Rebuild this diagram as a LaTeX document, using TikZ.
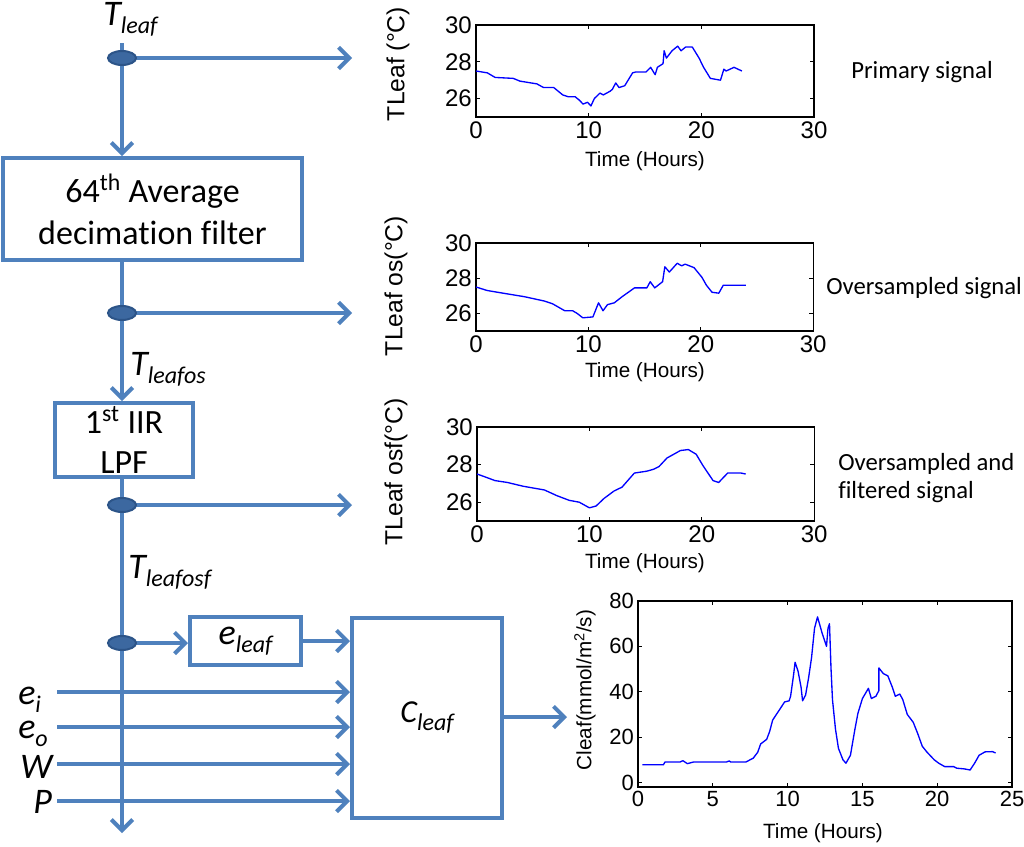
\documentclass[tikz,border=0pt]{standalone}
\usepackage{fontspec}
\setmainfont[Ligatures=NoCommon]{Carlito}
\newfontfamily\plotfont{Liberation Sans}
\usetikzlibrary{arrows.meta,shapes.geometric,positioning}
\definecolor{flowblue}{RGB}{79,129,189}
\definecolor{tapblue}{RGB}{60,104,160}
\definecolor{tapedge}{RGB}{44,84,136}
\tikzstyle{wire}=[draw=flowblue,line width=3pt]
\tikzstyle{flow}=[wire,-{Straight Barb[length=8pt,width=16pt]}]
\tikzstyle{blk}=[draw=flowblue,line width=3pt,fill=white,inner sep=0pt,align=center]
\tikzstyle{tap}=[ellipse,draw=tapedge,fill=tapblue,line width=1.5pt,minimum width=21pt,minimum height=10.5pt,inner sep=0pt]
\tikzstyle{txt}=[font=\fontsize{25.5}{31.5}\selectfont]
\tikzstyle{note}=[font=\fontsize{18.5}{20.5}\selectfont,inner sep=0pt,align=left]
\tikzstyle{lbl}=[inner sep=0pt]
\tikzstyle{ax}=[line width=0.8pt]
\tikzstyle{curve}=[blue,line width=1pt,line join=round]
\tikzstyle{tick}=[font=\plotfont\fontsize{18}{18}\selectfont,inner sep=3pt]
\tikzstyle{axlbl}=[font=\plotfont\fontsize{15.5}{15.5}\selectfont]
\tikzstyle{ylbl}=[font=\plotfont\fontsize{18.5}{18.5}\selectfont,rotate=90]
\newcommand{\quant}[3][27]{{\itshape\fontsize{#1}{#1}\selectfont #2}\raisebox{-6pt}{\itshape\fontsize{18}{18}\selectfont #3}}
\begin{document}
\begin{tikzpicture}[x=0.75pt,y=-0.75pt]  % one unit = one pixel of the layout
\useasboundingbox (0,0) rectangle (1024,846);

% signal chain
\coordinate (top) at (122,43);
\coordinate (bot) at (122,833);
\coordinate (t1) at (122,58);
\coordinate (t2) at (122,313);
\coordinate (t3) at (122,505);
\coordinate (t4) at (122,643);
\coordinate (s1) at (352,58);
\coordinate (s2) at (352,313);
\coordinate (s3) at (352,505);

\node[blk,txt,minimum width=224.25pt,minimum height=76.5pt] (dec) at (152.5,209)
      {64\textsuperscript{th} Average\\decimation filter};
\node[blk,txt,font=\fontsize{25.5}{30}\selectfont,minimum width=103.5pt,minimum height=55.5pt] (iir) at (124,440)
      {1\textsuperscript{st} IIR\\LPF};
\node[blk,minimum width=83.25pt,minimum height=36pt] (elf) at (245.5,641) {\quant{e}{leaf}};
\node[blk,minimum width=112.5pt,minimum height=150pt] (cl) at (427,717.5) {\quant[24]{C}{leaf}};

\node[lbl,anchor=base west] (tleaf) at (103,25) {\quant{T}{leaf}};
\node[lbl,anchor=base west] (tos) at (130,375) {\quant{T}{leafos}};
\node[lbl,anchor=base west] (tosf) at (128,578) {\quant{T}{leafosf}};

\draw[flow] (top) -- (top |- dec.north);
\draw[flow] (top |- dec.south) -- (top |- iir.north);
\draw[flow] (top |- iir.south) -- (bot);
\draw[flow] (t1) -- (s1);
\draw[flow] (t2) -- (s2);
\draw[flow] (t3) -- (s3);
\draw[flow] (t4) -- (t4 -| elf.west);
\draw[flow] (elf.east) -- (elf.east -| cl.west);

% inputs of C_leaf
\coordinate (in1) at (57,692);
\coordinate (in2) at (57,727);
\coordinate (in3) at (57,764);
\coordinate (in4) at (57,801);
\node[lbl,anchor=base west] (ei) at (18,704) {\quant{e}{i}};
\node[lbl,anchor=base west] (eo) at (18,738) {\quant{e}{o}};
\node[lbl,anchor=base west] (wv) at (20,778) {\quant{W}{}};
\node[lbl,anchor=base west] (pv) at (33,813) {\quant{P}{}};
\foreach \i in {1,...,4}
  \draw[flow] (in\i) -- (in\i -| cl.west);

\coordinate (c4) at (567,717);
\draw[flow] (cl.east |- c4) -- (c4);

\node[tap] (tap1) at (t1) {};
\node[tap] (tap2) at (t2) {};
\node[tap] (tap3) at (t3) {};
\node[tap] (tap4) at (t4) {};

% plot 1: primary signal
\coordinate (ax1) at (476,117);
\begin{scope}[shift={(ax1)},x=8.45pt,y=13.8pt,shift={(0,-25)}]
  \draw[ax] (0,25) rectangle (30,30);
  \foreach \t in {0,10,20,30} {
    \draw[ax] (\t,25) -- +(90:3pt);
    \draw[ax] (\t,30) -- +(-90:3pt);
    \node[tick,below] at (\t,25) {\t};
  }
  \foreach \v in {26,28,30} {
    \draw[ax] (0,\v) -- +(0:3pt);
    \draw[ax] (30,\v) -- +(180:3pt);
    \node[tick,left] at (0,\v) {\v};
  }
  \draw[curve] plot coordinates {(0,27.5) (0.5,27.45) (1,27.4) (1.7,27.15) (3.3,27.1) (3.9,26.95)
    (5.4,26.8) (6,26.6) (6.9,26.6) (7.7,26.2) (8.2,26.1) (8.8,26.1) (9.2,25.9) (9.5,25.7)
    (9.9,25.8) (10.2,25.6) (10.5,26.0) (11,26.3) (11.3,26.2) (11.9,26.4) (12.1,26.5)
    (12.4,26.85) (12.7,26.6) (13.2,26.7) (13.9,27.4) (14.2,27.45) (15.1,27.45) (15.5,27.7)
    (15.9,27.3) (16.1,27.7) (16.6,27.9) (16.7,28.6) (16.9,28.2) (17.4,28.6) (17.9,28.85)
    (18.2,28.6) (18.6,28.8) (19.2,28.8) (19.8,28.2) (20.2,27.7) (20.8,27.1) (21.7,27.0)
    (22,27.6) (22.2,27.5) (22.9,27.7) (23.6,27.5)};
\end{scope}
\node[axlbl] (xl1) at (645,161) {Time (Hours)};
\node[ylbl] (yl1) at (398,64) {TLeaf (°C)};
\node[note] (n1) at (922,72) {Primary signal};

% plot 2: oversampled signal
\coordinate (ax2) at (476,331);
\begin{scope}[shift={(ax2)},x=8.43pt,y=13.2pt,shift={(0,-25)}]
  \draw[ax] (0,25) rectangle (30,30);
  \foreach \t in {0,10,20,30} {
    \draw[ax] (\t,25) -- +(90:3pt);
    \draw[ax] (\t,30) -- +(-90:3pt);
    \node[tick,below] at (\t,25) {\t};
  }
  \foreach \v in {26,28,30} {
    \draw[ax] (0,\v) -- +(0:3pt);
    \draw[ax] (30,\v) -- +(180:3pt);
    \node[tick,left] at (0,\v) {\v};
  }
  \draw[curve] plot coordinates {(0,27.5) (1,27.3) (2.4,27.15) (4.3,26.95) (6.1,26.7) (6.8,26.55)
    (7.9,26.15) (8.6,26.15) (9,26.0) (9.5,25.75) (10.4,25.8) (10.9,26.6) (11.3,26.15)
    (11.7,26.5) (12.3,26.6) (13,26.95) (14.1,27.45) (15.2,27.45) (15.5,27.8) (15.9,27.45)
    (16.6,27.8) (16.8,28.65) (17.2,28.35) (17.9,28.85) (18.3,28.7) (18.6,28.8) (19.4,28.6)
    (20.1,28.05) (20.5,27.6) (21,27.2) (21.6,27.15) (22,27.6) (24,27.6)};
\end{scope}
\node[axlbl] (xl2) at (645,372) {Time (Hours)};
\node[ylbl] (yl2) at (396,286) {TLeaf os(°C)};
\node[note,anchor=west] (n2) at (826,288) {Oversampled signal};

% plot 3: oversampled and filtered signal
\coordinate (ax3) at (477,521);
\begin{scope}[shift={(ax3)},x=8.43pt,y=14.1pt,shift={(0,-25)}]
  \draw[ax] (0,25) rectangle (30,30);
  \foreach \t in {0,10,20,30} {
    \draw[ax] (\t,25) -- +(90:3pt);
    \draw[ax] (\t,30) -- +(-90:3pt);
    \node[tick,below] at (\t,25) {\t};
  }
  \foreach \v in {26,28,30} {
    \draw[ax] (0,\v) -- +(0:3pt);
    \draw[ax] (30,\v) -- +(180:3pt);
    \node[tick,left] at (0,\v) {\v};
  }
  \draw[curve] plot coordinates {(0,27.5) (0.7,27.35) (1.6,27.15) (2.7,27.05) (4.1,26.85)
    (6,26.65) (7.1,26.35) (8.2,26.1) (9.1,26.0) (10,25.7) (10.6,25.8) (11.3,26.2) (12.2,26.6)
    (12.9,26.8) (14,27.55) (15.1,27.65) (15.7,27.75) (16.2,27.9) (16.9,28.35) (18.1,28.75)
    (18.8,28.8) (19.5,28.55) (20.1,27.95) (21,27.15) (21.5,27.05) (22.3,27.55) (23.5,27.55)
    (23.9,27.5)};
\end{scope}
\node[axlbl] (xl3) at (645,563) {Time (Hours)};
\node[ylbl] (yl3) at (396,472) {TLeaf osf(°C)};
\node[note,anchor=west] (n3) at (838,478) {Oversampled and\\filtered signal};

% plot 4: C_leaf
\coordinate (ax4) at (638,787);
\begin{scope}[shift={(ax4)},x=11.22pt,y=1.701pt,shift={(0,2)}]
  \draw[ax] (0,-2) rectangle (25,80);
  \foreach \t in {0,5,...,25} {
    \draw[ax] (\t,-2) -- +(90:3pt);
    \draw[ax] (\t,80) -- +(-90:3pt);
    \node[tick,font=\plotfont\fontsize{16.5}{16.5}\selectfont,below] at (\t,-2) {\t};
  }
  \foreach \v in {0,20,...,80} {
    \draw[ax] (0,\v) -- +(0:3pt);
    \draw[ax] (25,\v) -- +(180:3pt);
    \node[tick,font=\plotfont\fontsize{16.5}{16.5}\selectfont,left] at (0,\v) {\v};
  }
  \draw[curve] plot coordinates {(0.3,7.8) (1.7,7.8) (1.8,9) (2.8,9) (3,9.6) (3.3,8.3) (3.7,9)
    (5.9,9) (6.1,9.5) (6.2,9) (7.2,9) (7.7,10.7) (8,13.3) (8.2,17) (8.6,19) (8.8,22.5) (9,27.5)
    (9.5,32.5) (9.8,35.5) (10.1,36) (10.2,38) (10.4,47.5) (10.5,53) (10.7,49) (10.9,42) (11,36)
    (11.2,38.5) (11.4,46) (11.6,55) (11.8,68) (12,73) (12.3,66) (12.5,62) (12.6,60) (12.7,68)
    (12.8,70) (12.9,50.5) (13,36.5) (13.2,23.5) (13.4,15) (13.7,10) (13.9,8.5) (14.2,12)
    (14.5,23.5) (14.7,30.5) (15,37) (15.4,41.5) (15.6,37) (15.9,38) (16.1,40.5) (16.1,50.5)
    (16.4,48) (16.7,47) (17,42) (17.2,38) (17.5,39) (17.7,36.5) (18,30) (18.4,26.5) (18.7,21.5)
    (19,16) (19.3,13.5) (19.8,10) (20.1,8.5) (20.5,7) (21.1,7) (21.3,6.3) (21.8,6) (22.2,5.5)
    (22.5,8.5) (22.8,12) (23.2,13.5) (23.7,13.6) (23.9,13)};
\end{scope}
\node[axlbl] (xl4) at (823,833) {Time (Hours)};
\node[ylbl,font=\plotfont\fontsize{15.5}{15.5}\selectfont] (yl4) at (585,690) {Cleaf(mmol/m\textsuperscript{2}/s)};
\end{tikzpicture}
\end{document}
